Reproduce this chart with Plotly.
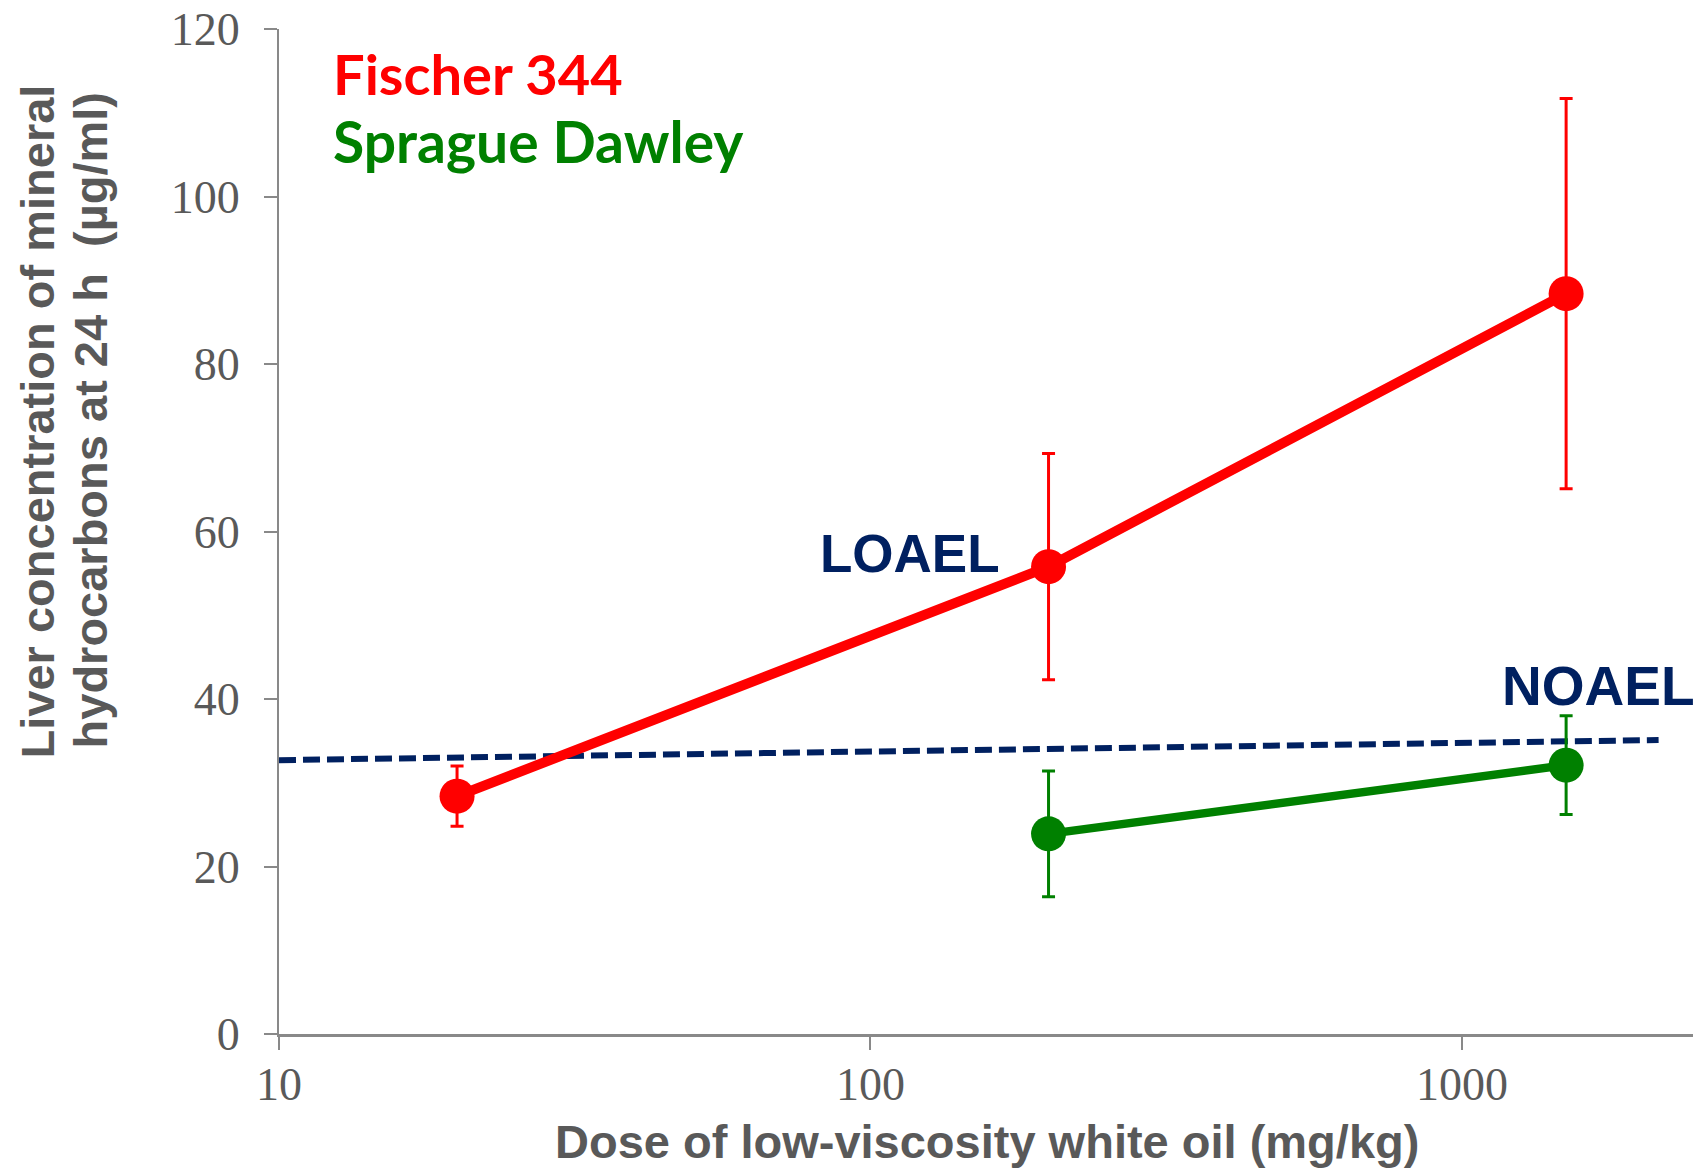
import plotly.graph_objects as go

# ---- data ----
fischer_dose = [20, 200, 1500]
fischer_conc = [28.4, 55.8, 88.4]
fischer_err = [3.6, 13.5, 23.3]

sprague_dose = [200, 1500]
sprague_conc = [23.9, 32.1]
sprague_err = [7.5, 5.9]

threshold_dose = [10, 2150]
threshold_conc = [32.7, 35.1]

y_ticks = [0, 20, 40, 60, 80, 100, 120]
x_ticks = [10, 100, 1000]

RED = "#FF0000"
GREEN = "#008000"
NAVY = "#002060"
GRAY = "#595959"
AXIS = "#898989"

fig = go.Figure()

fig.add_trace(go.Scatter(
    x=threshold_dose, y=threshold_conc, mode="lines",
    line=dict(color=NAVY, width=6, dash="17px,7px"),
    showlegend=False, hoverinfo="skip"))

fig.add_trace(go.Scatter(
    x=fischer_dose, y=fischer_conc, mode="lines+markers",
    line=dict(color=RED, width=10),
    marker=dict(color=RED, size=35),
    error_y=dict(type="data", array=fischer_err, color=RED, thickness=3, width=6.5),
    showlegend=False))

fig.add_trace(go.Scatter(
    x=sprague_dose, y=sprague_conc, mode="lines+markers",
    line=dict(color=GREEN, width=8.5),
    marker=dict(color=GREEN, size=35),
    error_y=dict(type="data", array=sprague_err, color=GREEN, thickness=3, width=6.5),
    showlegend=False))

tick_font = dict(family="Liberation Serif", size=46, color=GRAY)
title_font = dict(family="Liberation Sans", size=47, color=GRAY, weight="bold")

fig.update_layout(
    width=1693, height=1169,
    margin=dict(l=279, r=0, t=29, b=135),
    paper_bgcolor="white", plot_bgcolor="white",
    xaxis=dict(
        type="log", range=[1, 3.3906],
        tickvals=x_ticks, ticktext=[str(v) for v in x_ticks],
        ticks="outside", ticklen=13, tickwidth=2, tickcolor=AXIS,
        showline=True, linecolor=AXIS, linewidth=3,
        showgrid=False, zeroline=False,
        tickfont=tick_font, ticklabelstandoff=-5,
    ),
    yaxis=dict(
        range=[0, 120], tickvals=y_ticks,
        ticks="outside", ticklen=13, tickwidth=2, tickcolor=AXIS,
        showline=True, linecolor=AXIS, linewidth=2,
        showgrid=False, zeroline=False,
        tickfont=tick_font, ticklabelstandoff=15,
    ),
)

annotations = [
    dict(text="Dose of low-viscosity white oil (mg/kg)", xref="paper", yref="paper",
         x=0.501, y=-0.107, xanchor="center", yanchor="middle",
         showarrow=False, font=title_font),
    dict(text="Liver concentration of mineral", xref="paper", yref="paper",
         x=-0.1708, y=0.61, xanchor="center", yanchor="middle", textangle=-90,
         showarrow=False, font=title_font),
    dict(text="hydrocarbons at 24 h  (µg/ml)", xref="paper", yref="paper",
         x=-0.1333, y=0.61, xanchor="center", yanchor="middle", textangle=-90,
         showarrow=False, font=title_font),
    dict(text="Fischer 344", xref="paper", yref="paper", x=0.037, y=0.956,
         xanchor="left", yanchor="middle", showarrow=False,
         font=dict(family="Lato", size=56, color=RED, weight="bold")),
    dict(text="Sprague Dawley", xref="paper", yref="paper", x=0.037, y=0.8886,
         xanchor="left", yanchor="middle", showarrow=False,
         font=dict(family="Lato", size=57, color=GREEN, weight="bold")),
    dict(text="LOAEL", xref="x", yref="y", x=2.2226, y=57.4,
         xanchor="right", yanchor="middle", showarrow=False,
         font=dict(family="Liberation Sans", size=53, color=NAVY, weight="bold")),
    dict(text="NOAEL", xref="x", yref="y", x=3.2315, y=41.55,
         xanchor="center", yanchor="middle", showarrow=False,
         font=dict(family="Liberation Sans", size=55, color=NAVY, weight="bold")),
]
fig.update_layout(annotations=annotations)

# remove the default page margin so the figure fills the window exactly
fig.write_html("out.html", config={"displayModeBar": False},
               post_script="document.body.style.margin='0px';document.body.style.overflow='hidden';")
